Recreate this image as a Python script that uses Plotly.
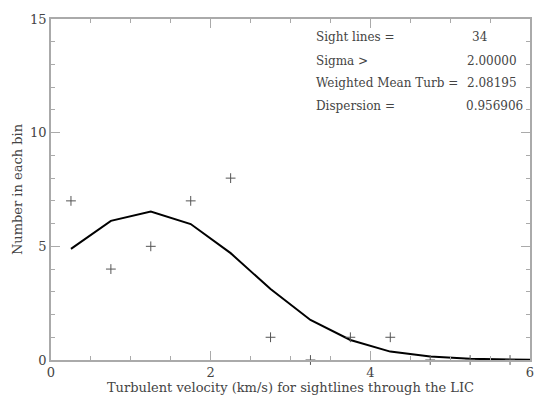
import plotly.graph_objects as go

# histogram of turbulent velocities (bin centres, counts) and fitted curve
bin_centres = [0.25, 0.75, 1.25, 1.75, 2.25, 2.75, 3.25, 3.75, 4.25, 4.75, 5.25, 5.75]
counts = [7, 4, 5, 7, 8, 1, 0, 1, 1, 0, 0, 0]

fit_x = [0.25, 0.75, 1.25, 1.75, 2.25, 2.75, 3.25, 3.75, 4.25, 4.75, 5.25, 5.75, 6.25]
fit_y = [4.89, 6.12, 6.53, 5.98, 4.70, 3.12, 1.76, 0.88, 0.37, 0.15, 0.05, 0.01, 0.0]

stat_labels = ["Sight lines =", "Sigma >", "Weighted Mean Turb =", "Dispersion ="]
stat_values = ["34", "2.00000", "2.08195", "0.956906"]

FONT = "DejaVu Serif"
TXT = "#444444"
AXC = "#aaaaaa"

fig = go.Figure()

fig.add_trace(go.Scatter(
    x=fit_x, y=fit_y, mode="lines",
    line=dict(color="black", width=2),
    showlegend=False, hoverinfo="skip",
))

fig.add_trace(go.Scatter(
    x=bin_centres, y=counts, mode="markers",
    marker=dict(symbol="cross-thin", size=7, line=dict(color="#555555", width=1)),
    cliponaxis=False, showlegend=False,
))

# stats block in the upper right
rows_y = [0.946, 0.878, 0.811, 0.746]
val_x = [0.875, 0.864, 0.864, 0.862]
for lab, val, yy, vx in zip(stat_labels, stat_values, rows_y, val_x):
    fig.add_annotation(text=lab, x=0.549, y=yy, xref="paper", yref="paper",
                       xanchor="left", yanchor="middle", showarrow=False,
                       font=dict(family=FONT, size=12, color=TXT))
    fig.add_annotation(text=val, x=vx, y=yy, xref="paper", yref="paper",
                       xanchor="left", yanchor="middle", showarrow=False,
                       font=dict(family=FONT, size=12, color=TXT))

axis_common = dict(
    showline=True, linecolor=AXC, linewidth=1.5, mirror="ticks",
    ticks="inside", tickcolor=AXC, tickwidth=1, ticklen=9,
    showgrid=False, zeroline=False, automargin=False,
    tickfont=dict(family=FONT, size=13, color=TXT),
)

fig.update_xaxes(
    range=[0, 6], tickvals=[0, 2, 4, 6],
    minor=dict(dtick=0.5, ticks="inside", ticklen=4, tickcolor=AXC),
    title=dict(text="Turbulent velocity (km/s) for sightlines through the LIC",
               font=dict(family=FONT, size=13, color=TXT), standoff=4),
    **axis_common,
)
fig.update_yaxes(
    range=[0, 15], tickvals=[0, 5, 10, 15],
    minor=dict(dtick=1, ticks="inside", ticklen=4, tickcolor=AXC),
    title=dict(text="Number in each bin",
               font=dict(family=FONT, size=13, color=TXT), standoff=5),
    **axis_common,
)

# the page body adds an 8px offset, so the margins are shifted to compensate
fig.update_layout(
    width=545, height=402,
    margin=dict(l=43, r=23, t=11, b=50),
    plot_bgcolor="white", paper_bgcolor="white",
)

fig.write_html("out.html")
